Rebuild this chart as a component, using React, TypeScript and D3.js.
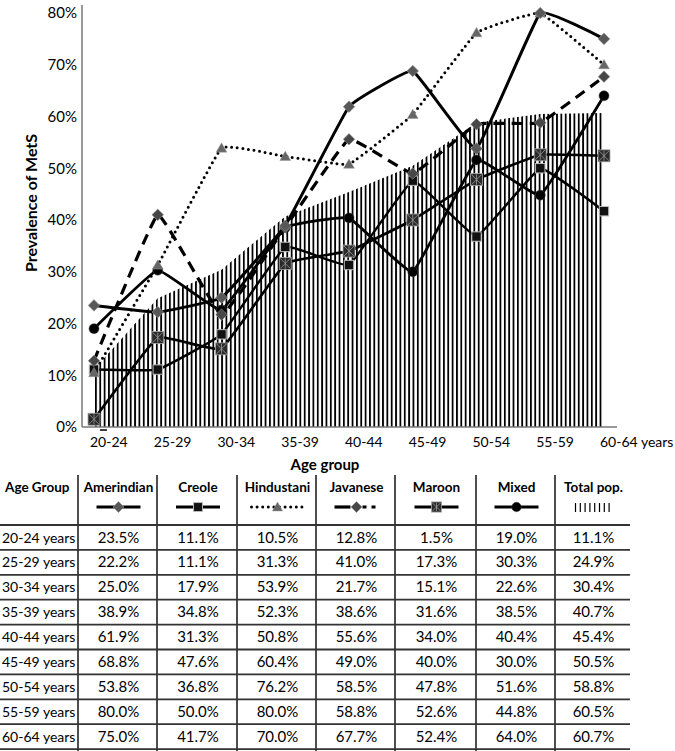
import React from "react";
import * as d3 from "d3";

const ageGroups = ["20-24", "25-29", "30-34", "35-39", "40-44", "45-49", "50-54", "55-59", "60-64"];
const amerindian = [23.5, 22.2, 25.0, 38.9, 61.9, 68.8, 53.8, 80.0, 75.0];
const creole = [11.1, 11.1, 17.9, 34.8, 31.3, 47.6, 36.8, 50.0, 41.7];
const hindustani = [10.5, 31.3, 53.9, 52.3, 50.8, 60.4, 76.2, 80.0, 70.0];
const javanese = [12.8, 41.0, 21.7, 38.6, 55.6, 49.0, 58.5, 58.8, 67.7];
const maroon = [1.5, 17.3, 15.1, 31.6, 34.0, 40.0, 47.8, 52.6, 52.4];
const mixed = [19.0, 30.3, 22.6, 38.5, 40.4, 30.0, 51.6, 44.8, 64.0];
const totalPop = [11.1, 24.9, 30.4, 40.7, 45.4, 50.5, 58.8, 60.5, 60.7];
const yTicks = [0, 10, 20, 30, 40, 50, 60, 70, 80];
const seriesNames = ["Amerindian", "Creole", "Hindustani", "Javanese", "Maroon", "Mixed", "Total pop."];

const FONT = "Lato, 'Open Sans', sans-serif";

type Kind = "amer" | "creole" | "hind" | "jav" | "maroon" | "mixed";

function Marker({ kind, x, y, s = 1 }: { kind: Kind; x: number; y: number; s?: number }) {
  if (kind === "amer" || kind === "jav") {
    const r = 5.8 * s;
    const d = `M${x},${y - r}L${x + r},${y}L${x},${y + r}L${x - r},${y}Z`;
    return <path d={d} fill={kind === "amer" ? "#585858" : "#474747"} stroke="#999" strokeWidth={0.6} />;
  }
  if (kind === "hind") {
    const d = d3.symbol().type(d3.symbolTriangle).size(50 * s * s)()!;
    return <path d={d} transform={`translate(${x},${y + 1})`} fill="#666" stroke="#999" strokeWidth={0.5} />;
  }
  if (kind === "creole") {
    const h = 4.7 * s;
    return <rect x={x - h} y={y - h} width={2 * h} height={2 * h} fill="#111" stroke="#bbb" strokeWidth={1} />;
  }
  if (kind === "maroon") {
    const h = 6 * s;
    return (
      <g>
        <rect x={x - h} y={y - h} width={2 * h} height={2 * h} fill="#2a2a2a" stroke="#aaa" strokeWidth={0.8} />
        <path d={`M${x - h + 1},${y - h + 1}L${x + h - 1},${y + h - 1}M${x + h - 1},${y - h + 1}L${x - h + 1},${y + h - 1}M${x},${y - h + 1}L${x},${y + h - 1}`} stroke="#999" strokeWidth={0.8} />
      </g>
    );
  }
  return <circle cx={x} cy={y} r={5 * s} fill="#000" stroke="#444" strokeWidth={0.5} />;
}

const seriesDefs: { kind: Kind; data: number[]; dash?: string; width: number; cap?: string }[] = [
  { kind: "maroon", data: maroon, width: 2.6 },
  { kind: "creole", data: creole, width: 2.4 },
  { kind: "mixed", data: mixed, width: 2.8 },
  { kind: "jav", data: javanese, width: 3.2, dash: "11 7" },
  { kind: "hind", data: hindustani, width: 3, dash: "0 5.6", cap: "round" },
  { kind: "amer", data: amerindian, width: 3 },
];

export default function App() {
  const x = d3.scaleLinear().domain([0, ageGroups.length - 1]).range([94, 604]);
  const y = d3.scaleLinear().domain([0, 80]).range([427, 13]);

  const line = d3
    .line<number>()
    .x((_, i) => x(i))
    .y((d) => y(d))
    .curve(d3.curveCardinal.tension(0.75));

  const area = d3
    .area<number>()
    .x((_, i) => x(i))
    .y0(y(0))
    .y1((d) => y(d));

  // table layout
  const colEdges = [0, 78, 157, 237, 316, 395, 476, 555, 630];
  const rowTop = 525;
  const rowH = 24.9;
  const tableCols = [amerindian, creole, hindustani, javanese, maroon, mixed, totalPop];
  const colCenter = (c: number) => (colEdges[c + 1] + colEdges[c + 2]) / 2 + 1;
  const legendY = 507;

  const legendSample = (c: number) => {
    const cx = colCenter(c);
    const kinds: Kind[] = ["amer", "creole", "hind", "jav", "maroon", "mixed"];
    if (c === 6) {
      const xs = d3.range(8).map((i) => cx - 18 + i * 4.8);
      return (
        <g key={c}>
          {xs.map((xx, i) => (
            <line key={i} x1={xx} x2={xx} y1={legendY - 4} y2={legendY + 5} stroke="#000" strokeWidth={1.2} />
          ))}
        </g>
      );
    }
    const k = kinds[c];
    let seg: JSX.Element;
    if (k === "hind") {
      seg = <line x1={cx - 26} x2={cx + 26} y1={legendY} y2={legendY} stroke="#000" strokeWidth={3} strokeDasharray="0 5.6" strokeLinecap="round" />;
    } else if (k === "jav") {
      seg = (
        <g>
          <line x1={cx - 22} x2={cx - 6} y1={legendY} y2={legendY} stroke="#000" strokeWidth={3.2} />
          <line x1={cx + 6} x2={cx + 24} y1={legendY} y2={legendY} stroke="#000" strokeWidth={3.2} strokeDasharray="4 5" />
        </g>
      );
    } else {
      seg = <line x1={cx - 22} x2={cx + 22} y1={legendY} y2={legendY} stroke="#000" strokeWidth={3.2} />;
    }
    return (
      <g key={c}>
        {seg}
        <Marker kind={k} x={cx} y={legendY} s={k === "maroon" ? 0.85 : 0.95} />
      </g>
    );
  };

  return (
    <svg width={675} height={751} style={{ position: "absolute", left: 0, top: 0, background: "#fff" }} fontFamily={FONT}>
      <defs>
        <pattern id="vhatch" x={95} y={0} width={4.35} height={10} patternUnits="userSpaceOnUse">
          <rect x={0} y={0} width={1.8} height={10} fill="#000" />
        </pattern>
      </defs>
      <rect x={0} y={0} width={675} height={751} fill="#fff" />

      {/* total population hatched area */}
      <path d={area(totalPop)!} fill="url(#vhatch)" />

      {/* axes */}
      <line x1={82} x2={82} y1={5} y2={427} stroke="#777" strokeWidth={1.5} />
      <line x1={82} x2={617} y1={427} y2={427} stroke="#777" strokeWidth={1.5} />
      <line x1={100} x2={107} y1={430} y2={430} stroke="#000" strokeWidth={1.5} />

      {yTicks.map((t) => (
        <text key={t} x={77} y={y(t)} dy="0.35em" textAnchor="end" fontSize={15} fill="#000">
          {t}%
        </text>
      ))}
      {ageGroups.map((g, i) => (
        <text key={g} x={x(i) - 4} y={447} textAnchor="start" fontSize={14} fill="#000">
          {i === ageGroups.length - 1 ? `${g} years` : g}
        </text>
      ))}
      <text x={325} y={470} textAnchor="middle" fontSize={15} fontWeight={700} fill="#000">
        Age group
      </text>
      <text transform={`translate(37,203) rotate(-90)`} textAnchor="middle" fontSize={16} fontWeight={700} fill="#000">
        Prevalence of MetS
      </text>

      {/* lines */}
      {seriesDefs.map((s) => (
        <path
          key={s.kind}
          d={line(s.data)!}
          fill="none"
          stroke="#000"
          strokeWidth={s.width}
          strokeDasharray={s.dash}
          strokeLinecap={(s.cap as any) || "butt"}
          strokeLinejoin="round"
        />
      ))}
      {seriesDefs.map((s) => (
        <g key={s.kind + "m"}>
          {s.data.map((v, i) => (
            <Marker key={i} kind={s.kind} x={x(i)} y={y(v)} />
          ))}
        </g>
      ))}

      {/* table */}
      <g>
        <text x={5} y={492} fontSize={13.5} fontWeight={700} fill="#000">
          Age Group
        </text>
        {seriesNames.map((n, c) => (
          <text key={n} x={colCenter(c)} y={492} textAnchor="middle" fontSize={13.5} fontWeight={700} fill="#000">
            {n}
          </text>
        ))}
        {seriesNames.map((_, c) => legendSample(c))}
        {colEdges.slice(1, 8).map((cx) => (
          <line key={cx} x1={cx} x2={cx} y1={475} y2={751} stroke="#222" strokeWidth={1.6} />
        ))}
        {d3.range(ageGroups.length + 1).map((r) => (
          <line key={r} x1={0} x2={630} y1={rowTop + r * rowH} y2={rowTop + r * rowH} stroke="#333" strokeWidth={1.8} />
        ))}
        {ageGroups.map((g, r) => (
          <g key={g}>
            <text x={2} y={rowTop + r * rowH + 17.5} fontSize={14} fill="#000">
              {g} years
            </text>
            {tableCols.map((col, c) => (
              <text key={c} x={colCenter(c)} y={rowTop + r * rowH + 17.5} textAnchor="middle" fontSize={15} fill="#000">
                {col[r].toFixed(1)}%
              </text>
            ))}
          </g>
        ))}
      </g>
    </svg>
  );
}
